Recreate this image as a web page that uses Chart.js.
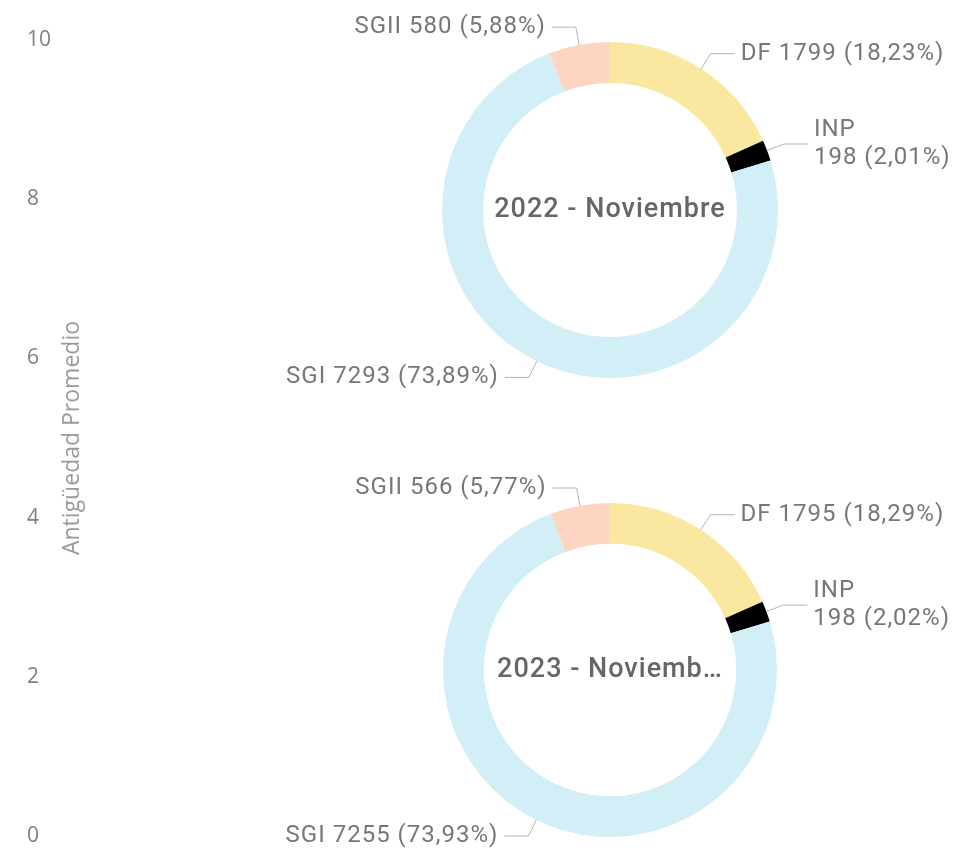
<!DOCTYPE html>
<html>
<head>
<meta charset="utf-8">
<script src="https://cdn.jsdelivr.net/npm/chart.js@4.4.0/dist/chart.umd.min.js"></script>
<style>
  html, body { margin: 0; padding: 0; background: #fff; }
  #wrap { position: relative; width: 977px; height: 853px; overflow: hidden; }
  canvas { position: absolute; left: 0; }
</style>
</head>
<body>
<div id="wrap">
  <canvas id="axisChart" width="977" height="853" style="top:0"></canvas>
  <canvas id="donut2022" width="977" height="426" style="top:0"></canvas>
  <canvas id="donut2023" width="977" height="427" style="top:426px"></canvas>
</div>
<script>
// data
const categories = ['DF', 'INP', 'SGI', 'SGII'];
const values2022 = [1799, 198, 7293, 580];
const values2023 = [1795, 198, 7255, 566];
const centerTitles = ['2022 - Noviembre', '2023 - Noviemb…'];
const axisTicks = [0, 2, 4, 6, 8, 10];
const axisTitle = 'Antigüedad Promedio';

const sliceColors = ['#FAE8A0', '#000000', '#D2EEF7', '#FED4C3'];
const labelFont = '24px Roboto, "Liberation Sans", sans-serif';
const centerFont = '500 27px Roboto, "Liberation Sans", sans-serif';

// axis only chart (no visible values)
new Chart(document.getElementById('axisChart'), {
  type: 'line',
  data: { labels: [''], datasets: [{ label: axisTitle, data: [] }] },
  options: {
    responsive: false,
    animation: false,
    events: [],
    layout: { padding: { left: 27, top: 40, bottom: 17, right: 0 } },
    plugins: { legend: { display: false }, tooltip: { enabled: false } },
    scales: {
      x: { display: false },
      y: {
        position: 'left',
        weight: 1,
        min: 0,
        max: 10,
        afterBuildTicks: (scale) => { scale.ticks = axisTicks.map(v => ({ value: v })); },
        grid: { display: false },
        border: { display: false },
        ticks: {
          crossAlign: 'far',
          padding: 0,
          color: '#808080',
          font: { family: '"Open Sans", "Noto Sans", sans-serif', size: 21 },
        },
      },
      y2: {
        position: 'left',
        weight: 0,
        grid: { display: false },
        border: { display: false },
        ticks: { display: false },
        title: {
          display: true,
          text: axisTitle,
          color: '#9a9a9a',
          padding: 0,
          font: { family: '"Open Sans", "Noto Sans", sans-serif', size: 23 },
        },
      },
    },
  },
});

function fmtPct(v, total) {
  return (v / total * 100).toFixed(2).replace('.', ',') + '%';
}

const outsideLabels = {
  id: 'outsideLabels',
  afterDatasetsDraw(chart) {
    const ctx = chart.ctx;
    const meta = chart.getDatasetMeta(0);
    const data = chart.data.datasets[0].data;
    const total = data.reduce((a, b) => a + b, 0);
    ctx.save();
    ctx.font = labelFont;
    ctx.letterSpacing = '1px';
    ctx.textBaseline = 'middle';
    meta.data.forEach((arc, i) => {
      const p = arc.getProps(['x', 'y', 'startAngle', 'endAngle', 'outerRadius']);
      const mid = (p.startAngle + p.endAngle) / 2;
      const cos = Math.cos(mid), sin = Math.sin(mid);
      const x0 = p.x + cos * p.outerRadius;
      const y0 = p.y + sin * p.outerRadius;
      const x1 = p.x + cos * (p.outerRadius + 18);
      const y1 = p.y + sin * (p.outerRadius + 18);
      const right = cos >= 0;
      const x2 = x1 + (right ? 24 : -24);

      ctx.strokeStyle = '#b4b4b4';
      ctx.lineWidth = 1;
      ctx.beginPath();
      ctx.moveTo(x0, y0);
      ctx.lineTo(x1, y1);
      ctx.lineTo(x2, y1);
      ctx.stroke();

      const valueText = data[i] + ' (' + fmtPct(data[i], total) + ')';
      const full = chart.data.labels[i] + ' ' + valueText;
      const tx = x2 + (right ? 6 : -6);
      let lines = [full];
      if (right && tx + ctx.measureText(full).width > chart.width - 4) {
        lines = [chart.data.labels[i], valueText];
      }
      ctx.fillStyle = '#777777';
      ctx.textAlign = right ? 'left' : 'right';
      const lh = 28;
      const startY = y1 - (lines.length - 1) * lh / 2;
      lines.forEach((t, k) => ctx.fillText(t, tx, startY + k * lh));
    });
    ctx.restore();
  },
  afterDraw(chart) {
    const ctx = chart.ctx;
    const arc = chart.getDatasetMeta(0).data[0];
    ctx.save();
    ctx.font = centerFont;
    ctx.letterSpacing = '1px';
    ctx.fillStyle = '#666666';
    ctx.textAlign = 'center';
    ctx.textBaseline = 'middle';
    ctx.fillText(chart.options.plugins.centerText.text, arc.x, arc.y);
    ctx.restore();
  },
};

function makeDonut(id, values, title, padding) {
  return new Chart(document.getElementById(id), {
    type: 'doughnut',
    data: {
      labels: categories,
      datasets: [{
        data: values,
        backgroundColor: sliceColors,
        borderWidth: 0,
        hoverOffset: 0,
        offset: 0,
      }],
    },
    options: {
      responsive: false,
      animation: false,
      events: [],
      cutout: '75.6%',
      layout: { padding: padding },
      plugins: {
        legend: { display: false },
        tooltip: { enabled: false },
        centerText: { text: title },
      },
    },
    plugins: [outsideLabels],
  });
}

makeDonut('donut2022', values2022, centerTitles[0], { left: 442, right: 199, top: 42, bottom: 48 });
makeDonut('donut2023', values2023, centerTitles[1], { left: 443, right: 200, top: 77, bottom: 16 });
</script>
</body>
</html>
